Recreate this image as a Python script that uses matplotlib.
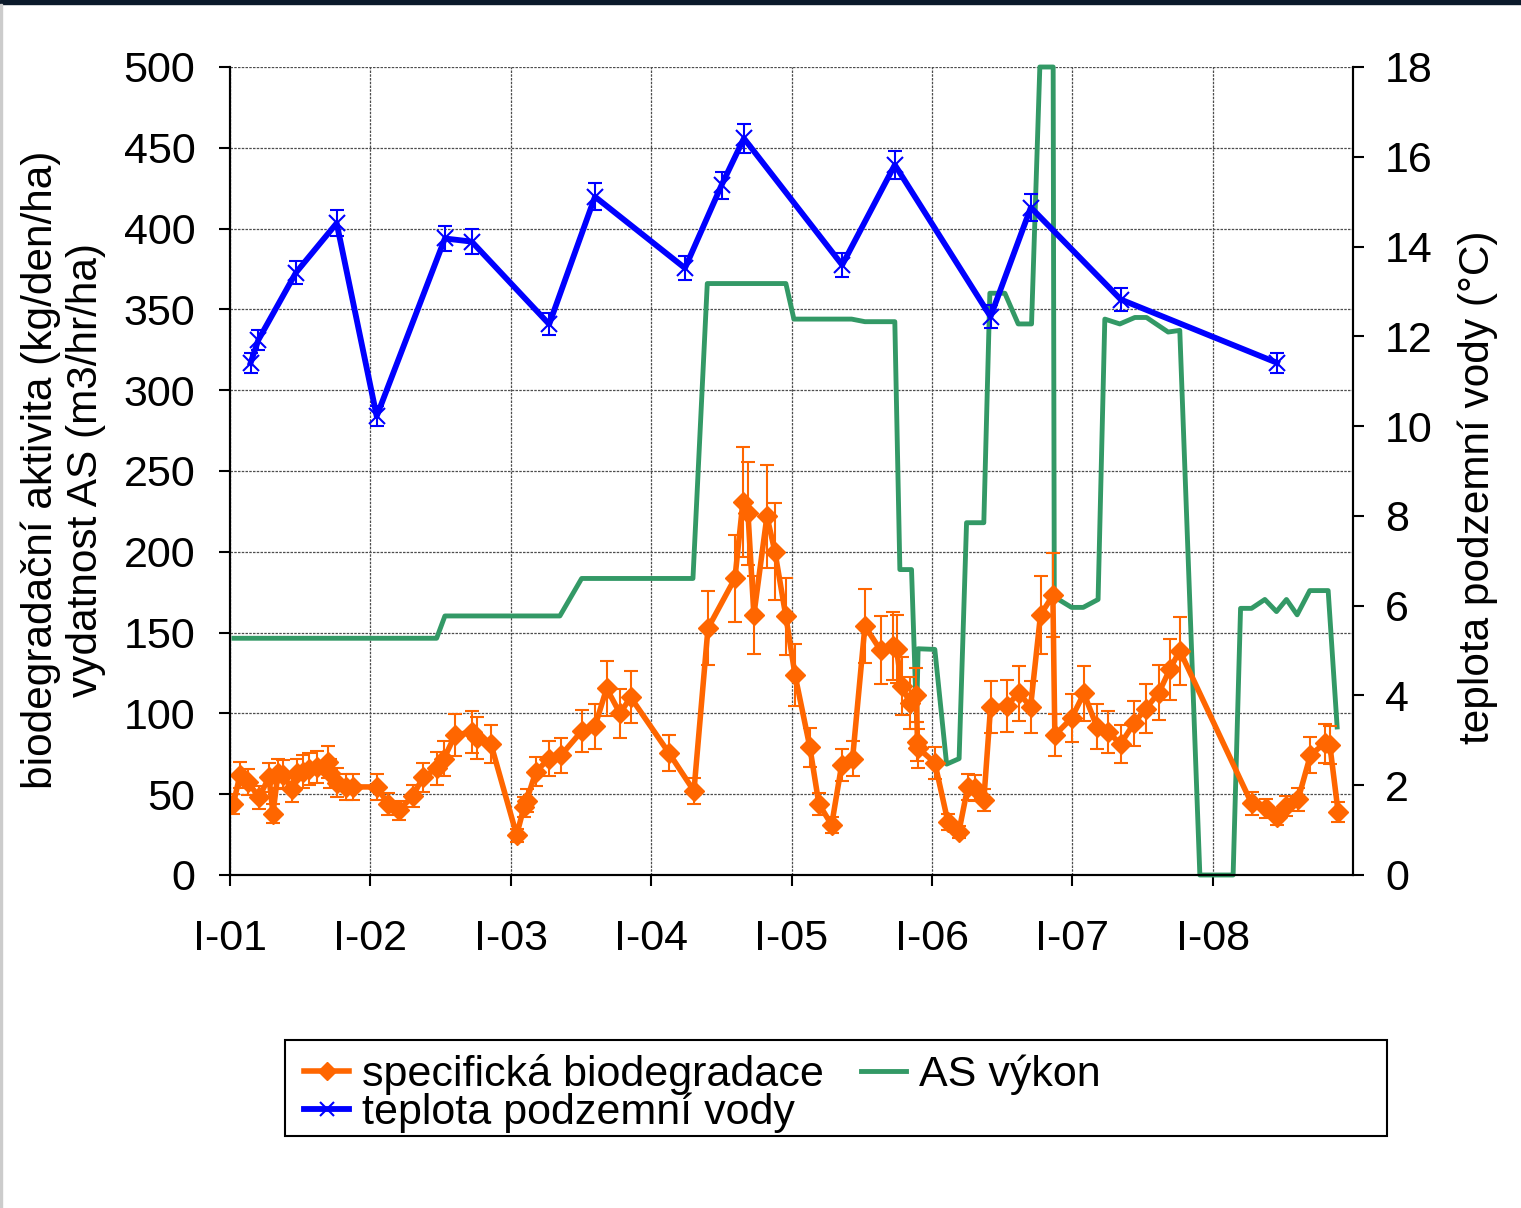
import matplotlib
matplotlib.use("Agg")
import matplotlib.pyplot as plt
from matplotlib.lines import Line2D
from matplotlib.patches import Rectangle

plt.rcParams['font.family'] = ['Liberation Sans', 'DejaVu Sans']

# specifická biodegradace (kg/den/ha), x = desetinný rok
bio_x = [2001.024, 2001.071, 2001.128, 2001.207, 2001.278, 2001.306, 2001.342, 2001.377,
         2001.442, 2001.477, 2001.520, 2001.563, 2001.620, 2001.698, 2001.712, 2001.762,
         2001.826, 2001.876, 2002.047, 2002.125, 2002.204, 2002.303, 2002.375, 2002.474,
         2002.524, 2002.603, 2002.724, 2002.759, 2002.859, 2003.042, 2003.094, 2003.113,
         2003.179, 2003.272, 2003.357, 2003.505, 2003.600, 2003.683, 2003.778, 2003.854,
         2004.127, 2004.305, 2004.405, 2004.597, 2004.654, 2004.690, 2004.732, 2004.825,
         2004.882, 2004.960, 2005.025, 2005.131, 2005.195, 2005.286, 2005.357, 2005.435,
         2005.523, 2005.635, 2005.720, 2005.748, 2005.784, 2005.843, 2005.890, 2005.897,
         2005.904, 2006.021, 2006.114, 2006.192, 2006.256, 2006.306, 2006.370, 2006.418,
         2006.532, 2006.620, 2006.703, 2006.774, 2006.862, 2006.876, 2006.995, 2007.083,
         2007.175, 2007.254, 2007.344, 2007.439, 2007.524, 2007.617, 2007.695, 2007.766,
         2008.277, 2008.379, 2008.460, 2008.526, 2008.609, 2008.697, 2008.799, 2008.835,
         2008.894]
bio_y = [44, 62, 57.5, 48, 60.6, 38, 63, 62,
         53, 63, 64, 65.5, 67, 70, 63, 57,
         54.5, 54.5, 54.5, 44, 40, 49, 60.5, 66,
         72, 86.5, 88.6, 85, 81, 24.7, 42, 46,
         64, 72, 74, 89, 92, 115.5, 100, 110,
         75.5, 52, 152.7, 183.6, 231, 223.8, 161, 222,
         200, 160, 123.8, 79, 44, 31, 68, 72,
         154, 139, 141.7, 140, 117, 106.6, 111.4, 82.5,
         78.4, 69.5, 33, 26.6, 54.6, 54, 46.4, 104,
         104.6, 112.6, 104, 161, 173, 86.6, 97, 112.4,
         91.8, 88.7, 81, 93.8, 103, 112.8, 127.3, 138.8,
         44.4, 41.3, 35.7, 42.7, 46.8, 74.3, 81.5, 80.4,
         39]
bio_err = [6, 8, 8, 7, 9, 6, 9, 9,
           8, 9, 10, 10, 10, 10, 9, 9,
           8, 8, 8, 7, 6, 7, 9, 10,
           11, 13, 13, 13, 12, 4, 6, 7,
           9, 11, 11, 13, 14, 17, 15, 16,
           11, 8, 23, 27, 34, 32, 24, 32,
           30, 24, 19, 12, 7, 5, 10, 11,
           23, 21, 21, 21, 18, 16, 17, 12,
           12, 10, 5, 4, 8, 8, 7, 16,
           16, 17, 16, 24, 26, 13, 15, 17,
           14, 13, 12, 14, 15, 17, 19, 21,
           7, 6, 5, 6, 7, 11, 12, 12,
           6]

# AS výkon (m3/hr/ha)
as_x = [2001.028, 2002.472, 2002.531, 2003.350, 2003.505, 2004.298, 2004.400, 2004.960,
        2005.017, 2005.428, 2005.523, 2005.736, 2005.772, 2005.855, 2005.891, 2005.902,
        2006.021, 2006.105, 2006.194, 2006.247, 2006.370, 2006.413, 2006.520, 2006.615,
        2006.710, 2006.769, 2006.864, 2006.872, 2006.912, 2006.995, 2007.078, 2007.184,
        2007.232, 2007.339, 2007.446, 2007.529, 2007.683, 2007.766, 2007.909, 2008.146,
        2008.199, 2008.277, 2008.372, 2008.455, 2008.526, 2008.602, 2008.692, 2008.823,
        2008.887]
as_y = [146.5, 146.5, 160.3, 160.3, 183.5, 183.5, 366, 366,
        344, 344, 342.4, 342.4, 189, 189, 95, 140,
        139.6, 68.6, 72, 218, 218, 360, 360, 341,
        341, 500, 500, 173, 170, 165.6, 165.6, 170.5,
        344, 341, 345, 345, 336, 337, 0, 0,
        165, 165, 170.5, 163, 170.5, 161, 176, 176,
        91.6]

# teplota podzemní vody (°C)
t_x = [2001.147, 2001.202, 2001.470, 2001.760, 2002.045, 2002.531, 2002.722, 2003.274,
       2003.600, 2004.241, 2004.502, 2004.661, 2005.361, 2005.736, 2006.418, 2006.705,
       2007.346, 2008.459]
t_y = [11.41, 11.92, 13.42, 14.52, 10.22, 14.18, 14.11, 12.27,
       15.11, 13.52, 15.37, 16.41, 13.59, 15.82, 12.44, 14.87,
       12.82, 11.41]
t_err = [0.22, 0.22, 0.25, 0.29, 0.22, 0.28, 0.28, 0.25,
         0.3, 0.27, 0.3, 0.32, 0.27, 0.31, 0.25, 0.29,
         0.25, 0.22]

year_ticks = [2001, 2002, 2003, 2004, 2005, 2006, 2007, 2008]
year_labels = ['I-01', 'I-02', 'I-03', 'I-04', 'I-05', 'I-06', 'I-07', 'I-08']

orange = '#FF6600'
green = '#339966'
blue = '#0000FF'
fs = 31

fig = plt.figure(figsize=(15.21, 12.08), dpi=100)
ax = fig.add_axes([230 / 1521, 1 - 875 / 1208, (1353 - 230) / 1521, (875 - 67) / 1208])
ax2 = ax.twinx()

ax.errorbar(bio_x, bio_y, yerr=bio_err, fmt='-D', color=orange, ecolor=orange,
            lw=4, markersize=10, elinewidth=1.5, capsize=5, capthick=1.5, zorder=3)
ax.plot(as_x, as_y, '-', color=green, lw=3.5, zorder=2, clip_on=False)
ax2.errorbar(t_x, t_y, yerr=t_err, fmt='-x', color=blue, ecolor=blue,
             lw=4.2, markersize=11, mew=1.5, elinewidth=1.5, capsize=5, capthick=1.5)

ax.set_xlim(2001, 2009)
ax.set_ylim(0, 500)
ax2.set_ylim(0, 18)
ax.set_xticks(year_ticks)
ax.set_xticklabels(year_labels)
ax.set_yticks(range(0, 501, 50))
ax2.set_yticks(range(0, 19, 2))

ax.set_axisbelow(True)
ax.grid(True, color='0.3', lw=0.9, linestyle=(0, (2, 1)))
ax.tick_params(axis='both', direction='out', length=8, width=1.5, labelsize=fs)
ax.tick_params(axis='x', pad=24)
ax.tick_params(axis='y', pad=17)
ax2.tick_params(axis='y', direction='out', length=8, width=1.5, labelsize=fs, pad=15)

for a in (ax, ax2):
    a.spines['top'].set_visible(False)
    for s in ('left', 'right', 'bottom'):
        a.spines[s].set_linewidth(1.5)

fig.text(63 / 1521, 0.611, 'biodegradační aktivita (kg/den/ha)\nvydatnost AS (m3/hr/ha)',
         rotation=90, ha='center', va='center', multialignment='center',
         fontsize=30.5, linespacing=1.15)
fig.text(1478 / 1521, 0.597, 'teplota podzemní vody (°C)', rotation=90,
         ha='center', va='center', fontsize=30.5)

# legenda
fig.patches.append(Rectangle((285 / 1521, 1 - 1136 / 1208), (1387 - 285) / 1521, 96 / 1208,
                             transform=fig.transFigure, fill=False, edgecolor='black', lw=1.5))
handles = [
    Line2D([], [], color=orange, lw=4, marker='D', markersize=9),
    Line2D([], [], color=blue, lw=4.2, marker='x', markersize=10, mew=1.5),
    Line2D([], [], color=green, lw=3.5),
]
labels = ['specifická biodegradace', 'teplota podzemní vody', 'AS výkon']
fig.legend(handles, labels, ncol=2, loc='upper left', bbox_to_anchor=(304 / 1521, 1 - 1054 / 1208),
           frameon=False, fontsize=fs, handlelength=1.05, handletextpad=0.3,
           labelspacing=-0.05, columnspacing=0.85, borderpad=0, borderaxespad=0)

fig.patches.append(Rectangle((0, 1 - 4 / 1208), 1, 4 / 1208, transform=fig.transFigure,
                             color='#0b1a2b'))
fig.patches.append(Rectangle((0, 0), 2 / 1521, 1 - 4 / 1208, transform=fig.transFigure,
                             color='0.8'))

fig.savefig('out.png', dpi=100)
